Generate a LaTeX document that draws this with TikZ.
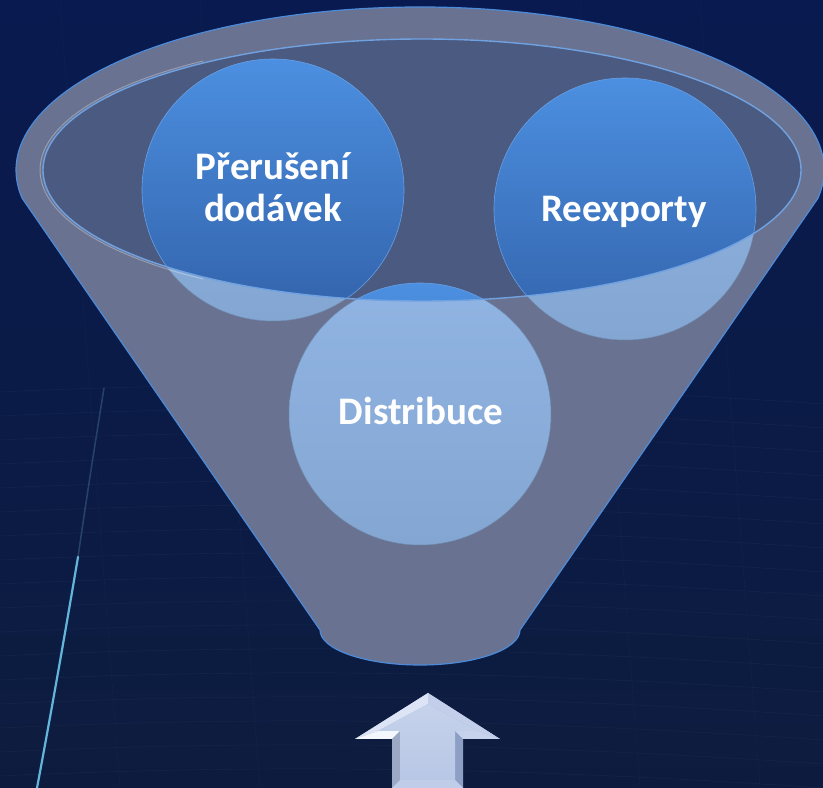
\documentclass[tikz,border=0pt]{standalone}
\usepackage{fontspec}
\setmainfont{Carlito}
\usetikzlibrary{positioning}
\definecolor{bgtop}{HTML}{091A50}
\definecolor{bgmid}{HTML}{040B2E}
\definecolor{bgbot}{HTML}{0D1C3E}
\definecolor{funnel}{HTML}{697290}
\definecolor{mouth}{HTML}{4B5A81}
\definecolor{rim}{HTML}{4C8BDA}
\definecolor{ballhi}{HTML}{4C8FE0}
\definecolor{balllo}{HTML}{3262AA}
\definecolor{washhi}{HTML}{90B4E3}
\definecolor{washlo}{HTML}{84A6D2}
\definecolor{arrface}{HTML}{B8C7E6}
\definecolor{arrlit}{HTML}{DCE4F6}
\definecolor{arrdark}{HTML}{8E9FC5}
\begin{document}
\begin{tikzpicture}[x=1pt, y=1pt, line join=round, line cap=round,
  lbl/.style={text=white, font=\bfseries\fontsize{39}{42}\selectfont, align=center, inner sep=0pt}]
 \useasboundingbox (0,0) rectangle (823,788);
 \shade[top color=bgtop, middle color=bgmid, bottom color=bgbot] (0,0) rectangle (823,788);
 \foreach \y in {12,36,...,400}
 \draw[white, opacity=0.05] (0,\y) .. controls (300,\y+14) and (560,\y+6) .. (823,\y-12);
 \foreach \x in {120,260,640,760}
 \draw[white, opacity=0.035] (\x,0) -- (\x-60,788);
 \draw[cyan!55!white, line width=2.2, opacity=0.85] (37,0) .. controls (52,80) and (66,160) .. (78,231);
 \draw[cyan!40!white, line width=1.5, opacity=0.2] (78,231) .. controls (88,300) and (96,350) .. (104,400);
 % funnel
 \path[fill=funnel, draw=rim, line width=1.2]
 (520,158) -- (817.9,589.7) arc[start angle=-10, end angle=190, x radius=404, y radius=163]
 -- (320,158) arc[start angle=180, end angle=360, x radius=100, y radius=35] -- cycle;
 \foreach \cx/\cy in {273/598, 625/579, 420/374}
 \shade[top color=washhi, bottom color=washlo, draw=washlo!85!black, line width=0.5] (\cx,\cy) circle[radius=131];
 \fill[mouth] (422,618) ellipse[x radius=379, y radius=131];
 \begin{scope}
 \clip (422,618) ellipse[x radius=379, y radius=131];
 \foreach \cx/\cy in {273/598, 625/579, 420/374}
 \shade[top color=ballhi, bottom color=balllo, draw=ballhi!85!white, line width=0.6] (\cx,\cy) circle[radius=131];
 \end{scope}
 \draw[white, opacity=0.3, line width=1] (422,618) ++(125:382 and 133) arc[start angle=125, end angle=235, x radius=382, y radius=133];
 \draw[rim!80!white, line width=1.4] (422,618) ellipse[x radius=379, y radius=131];
 \node[lbl] (prerus) at (273,601) {Přerušení\\dodávek};
 \node[lbl, anchor=base] (reexp) at (624,566) {Reexporty};
 \node[lbl, anchor=base] (distr) at (421,363) {Distribuce};
 % arrow
 \fill[arrdark] (428,95) -- (500,49) -- (463,49) -- (463,0) -- (392,0) -- (392,49) -- (355,49) -- cycle;
 \fill[arrlit] (355,49) -- (428,95) -- (428,84) -- (378,57) -- cycle;
 \fill[arrface!85!white] (428,95) -- (500,49) -- (478,57) -- (428,84) -- cycle;
 \fill[white!85!arrface] (355,49) -- (392,49) -- (400,57) -- (378,57) -- cycle;
 \fill[arrface!80!white] (463,49) -- (500,49) -- (478,57) -- (455,57) -- cycle;
 \fill[arrface!85!black] (392,49) -- (392,0) -- (400,8) -- (400,57) -- cycle;
 \fill[arrface!90!white] (392,0) -- (463,0) -- (455,8) -- (400,8) -- cycle;
 \shade[top color=arrface!80!white, bottom color=arrface] (428,84) -- (478,57) -- (455,57) -- (455,8) -- (400,8) -- (400,57) -- (378,57) -- cycle;
\end{tikzpicture}
\end{document}
